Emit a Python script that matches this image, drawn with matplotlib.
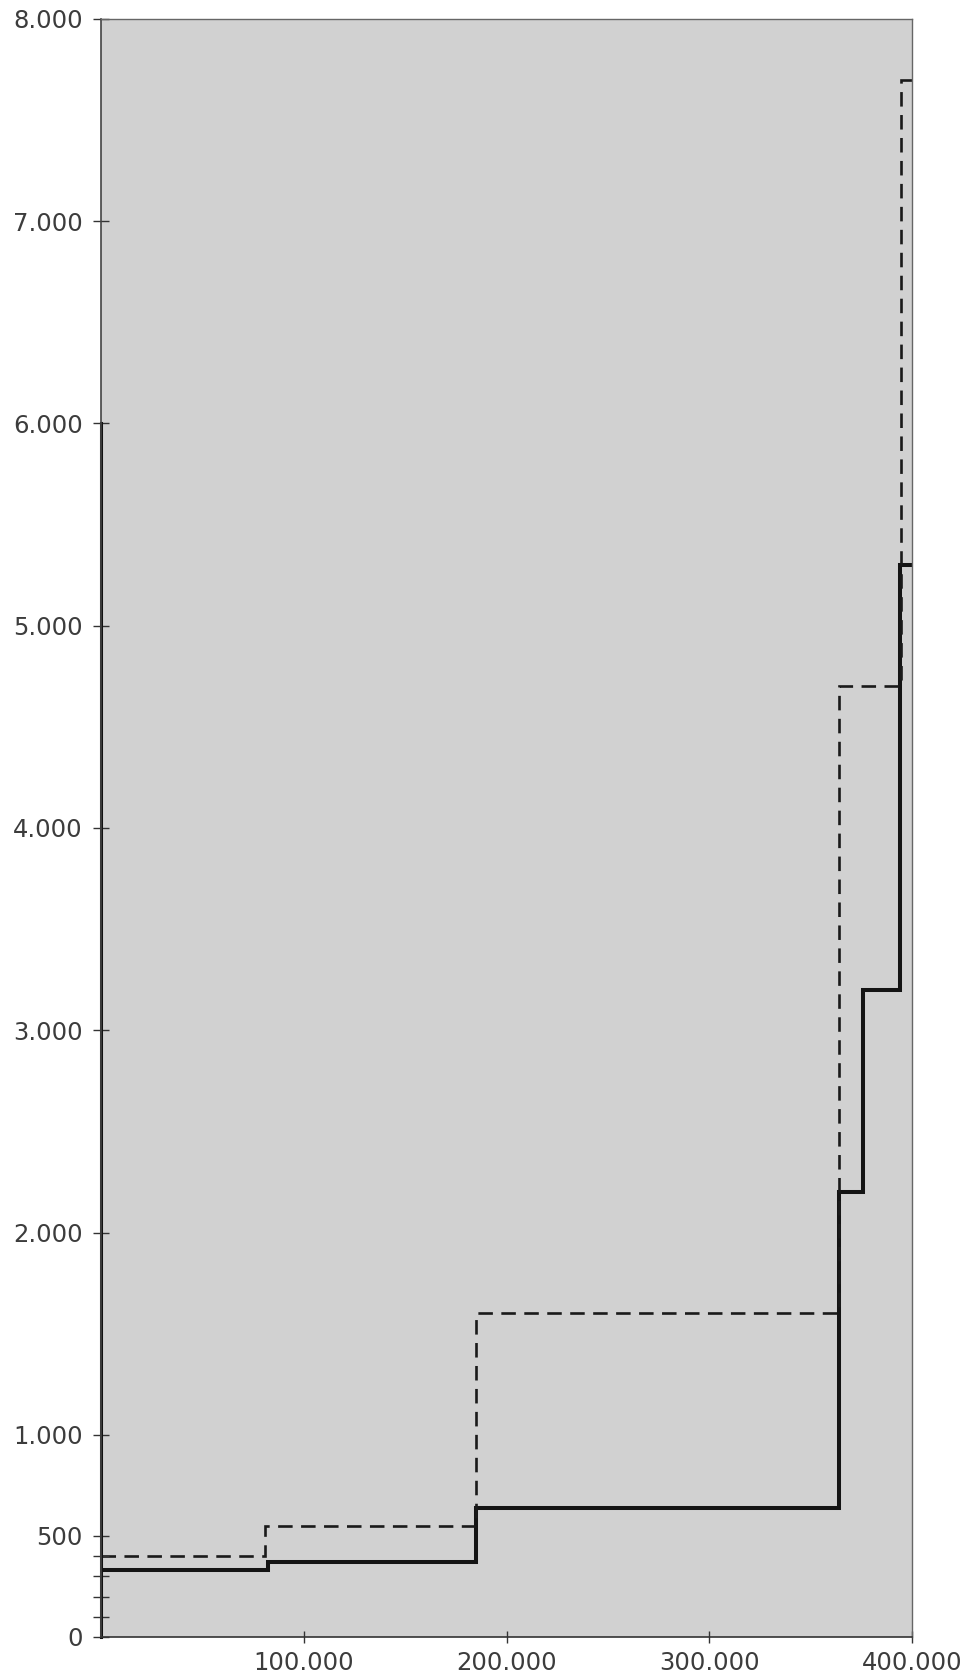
import matplotlib.pyplot as plt
import numpy as np

# step edges (x) and levels (y)
solid_x = [0, 82500, 185000, 364000, 376000, 394000, 400000]
solid_y = [330, 370, 640, 2200, 3200, 5300]

dashed_x = [0, 81000, 185000, 364000, 394500, 400000]
dashed_y = [400, 550, 1600, 4700, 7700]

y_major = [0, 500, 1000, 2000, 3000, 4000, 5000, 6000, 7000, 8000]
y_minor = [100, 200, 300, 400]
y_labels = ['0', '500', '1.000', '2.000', '3.000', '4.000', '5.000', '6.000', '7.000', '8.000']
x_ticks = [100000, 200000, 300000, 400000]
x_labels = ['100.000', '200.000', '300.000', '400.000']

fig = plt.figure(figsize=(9.8, 16.75), dpi=100)
ax = fig.add_axes([101 / 980, 38 / 1675, 811 / 980, 1618 / 1675])
ax.set_facecolor('#d1d1d1')

ax.stairs(solid_y, solid_x, color='#141414', linewidth=2.9, baseline=None)
ax.stairs(dashed_y, dashed_x, color='#1a1a1a', linewidth=1.9,
          linestyle=(0, (5.5, 3.2)), baseline=None)

ax.set_xlim(0, 400000)
ax.set_ylim(0, 8000)

ax.set_yticks(y_major)
ax.set_yticklabels(y_labels)
ax.set_yticks(y_minor, minor=True)
ax.set_xticks(x_ticks)
ax.set_xticklabels(x_labels)

ax.tick_params(axis='y', which='both', direction='inout', length=12, width=1,
               color='#333333', labelsize=17.5, labelcolor='#3c3c3c', pad=7)
ax.tick_params(axis='x', direction='inout', length=8, width=1,
               color='#333333', labelsize=17.5, labelcolor='#3c3c3c', pad=6)

for side in ['top', 'right']:
    ax.spines[side].set_color('#666666')
    ax.spines[side].set_linewidth(1.0)
ax.spines['bottom'].set_color('#333333')
ax.spines['bottom'].set_linewidth(1.2)
ax.spines['left'].set_color('#444444')
ax.spines['left'].set_linewidth(1.2)
# left edge is drawn darker up to 6.000
ax.plot([0, 0], [0, 6000], color='#111111', linewidth=2.2, clip_on=False)

fig.savefig('out.png', dpi=100)
